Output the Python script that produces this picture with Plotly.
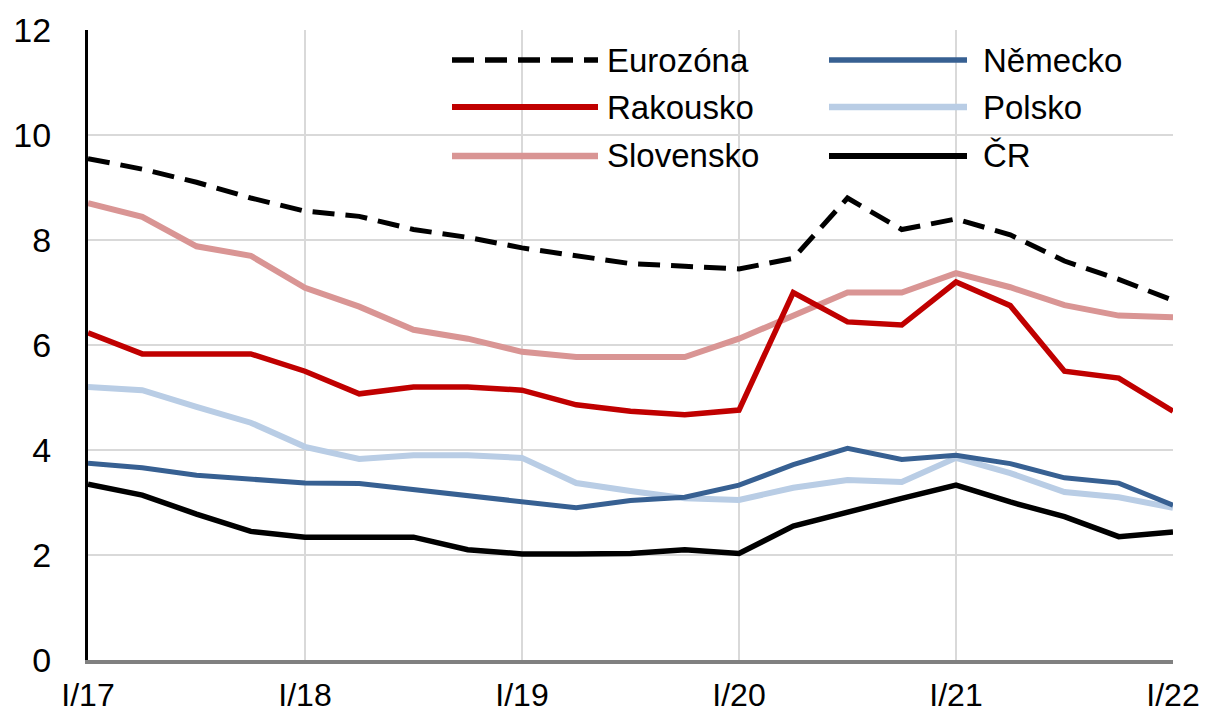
import plotly.graph_objects as go

quarters = [f"{q}/{y}" for y in ["17", "18", "19", "20", "21"] for q in ["I", "II", "III", "IV"]] + ["I/22"]
tick_labels = ["I/17", "I/18", "I/19", "I/20", "I/21", "I/22"]

eurozona = [9.55, 9.35, 9.1, 8.8, 8.55, 8.45, 8.2, 8.05, 7.85, 7.7, 7.55, 7.5, 7.45, 7.65, 8.8, 8.2, 8.4, 8.1, 7.6, 7.25, 6.85]
nemecko = [3.75, 3.66, 3.52, 3.44, 3.37, 3.36, 3.24, 3.13, 3.01, 2.9, 3.04, 3.1, 3.33, 3.72, 4.03, 3.82, 3.9, 3.74, 3.47, 3.37, 2.95]
rakousko = [6.23, 5.83, 5.83, 5.83, 5.5, 5.07, 5.2, 5.2, 5.14, 4.86, 4.74, 4.67, 4.76, 7.0, 6.44, 6.38, 7.2, 6.75, 5.5, 5.37, 4.74]
polsko = [5.2, 5.14, 4.82, 4.52, 4.06, 3.83, 3.9, 3.9, 3.85, 3.37, 3.22, 3.08, 3.05, 3.28, 3.43, 3.39, 3.85, 3.56, 3.2, 3.1, 2.9]
slovensko = [8.7, 8.44, 7.88, 7.7, 7.09, 6.73, 6.29, 6.12, 5.87, 5.77, 5.77, 5.77, 6.12, 6.55, 7.0, 7.0, 7.37, 7.1, 6.76, 6.56, 6.53]
cr = [3.35, 3.14, 2.78, 2.45, 2.34, 2.34, 2.34, 2.1, 2.02, 2.02, 2.03, 2.1, 2.03, 2.55, 2.82, 3.08, 3.33, 3.01, 2.73, 2.35, 2.44]

series = [
    ("Eurozóna", eurozona, "#000000", 5, "dash"),
    ("Německo", nemecko, "#376092", 5, "solid"),
    ("Rakousko", rakousko, "#c00000", 5.5, "solid"),
    ("Polsko", polsko, "#b9cde5", 6, "solid"),
    ("Slovensko", slovensko, "#d99594", 6, "solid"),
    ("ČR", cr, "#000000", 5.5, "solid"),
]
draw_order = ["Slovensko", "Polsko", "Rakousko", "Německo", "ČR", "Eurozóna"]
DASH = "22px,11px"

# page body has an 8px margin; figure sized to fit the 1211x726 window
OFF = 8
W, H = 1211 - 2 * OFF, 726 - 2 * OFF
L, T = 88 - OFF, 30 - OFF
R = W - (1173 - OFF)
B = H - (660 - OFF)
pw, ph = W - L - R, H - T - B

fig = go.Figure()
sdict = {s[0]: s for s in series}
for name in draw_order:
    n, vals, col, w, dash = sdict[name]
    fig.add_trace(go.Scatter(x=quarters, y=vals, mode="lines", name=n,
                             line=dict(color=col, width=w, dash="solid" if dash == "solid" else DASH),
                             showlegend=False))

# manual legend (two columns, three rows) with long keys like the original
legend_cols = [["Eurozóna", "Rakousko", "Slovensko"], ["Německo", "Polsko", "ČR"]]
col_line_px = [(452, 598), (829, 967)]
col_text_px = [605, 981]
row_py = [60, 107, 156]

def px_to_paper(px, py):
    return (px - OFF - L) / pw, (H - B - (py - OFF)) / ph

shapes = []
annotations = []
for ci, names in enumerate(legend_cols):
    for ri, name in enumerate(names):
        n, vals, col, w, dash = sdict[name]
        x0, y0 = px_to_paper(col_line_px[ci][0], row_py[ri])
        x1, _ = px_to_paper(col_line_px[ci][1], row_py[ri])
        shapes.append(dict(type="line", xref="paper", yref="paper", x0=x0, x1=x1, y0=y0, y1=y0,
                           line=dict(color=col, width=w + 0.5, dash="solid" if dash == "solid" else DASH)))
        tx, _ = px_to_paper(col_text_px[ci], row_py[ri])
        annotations.append(dict(xref="paper", yref="paper", x=tx, y=y0, text=n, showarrow=False,
                                xanchor="left", yanchor="middle",
                                font=dict(family="Liberation Sans", size=33, color="#000000")))

fig.update_layout(
    width=W, height=H,
    margin=dict(l=L, r=R, t=T, b=B, autoexpand=False),
    plot_bgcolor="white", paper_bgcolor="white",
    font=dict(family="Liberation Sans", size=34, color="#000000"),
    shapes=shapes, annotations=annotations,
    xaxis=dict(type="category", categoryorder="array", categoryarray=quarters,
               range=[0, len(quarters) - 1], tickmode="array", tickvals=tick_labels, ticktext=tick_labels,
               showgrid=True, gridcolor="#d9d9d9", gridwidth=2,
               showline=True, linecolor="#808080", linewidth=4, automargin=False,
               ticks="", ticklabelstandoff=4, tickfont=dict(size=32), zeroline=False),
    yaxis=dict(range=[0, 12], tickmode="array", tickvals=[0, 2, 4, 6, 8, 10, 12],
               showgrid=True, gridcolor="#d9d9d9", gridwidth=2,
               showline=True, linecolor="#000000", linewidth=3, automargin=False,
               ticks="", ticklabelstandoff=27, tickfont=dict(size=34), zeroline=False),
)

fig.write_html("out.html")
